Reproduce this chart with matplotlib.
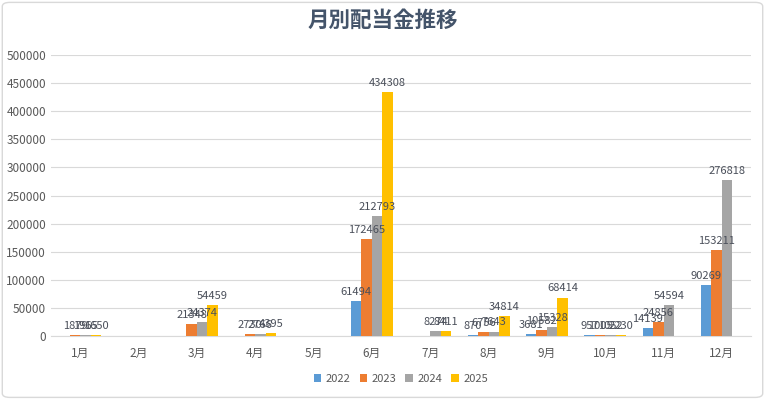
import numpy as np
import matplotlib
matplotlib.use("Agg")
import matplotlib.pyplot as plt
from matplotlib.patches import FancyBboxPatch

plt.rcParams["font.family"] = ["Noto Sans CJK JP", "DejaVu Sans"]

months = ["1月", "2月", "3月", "4月", "5月", "6月", "7月", "8月", "9月", "10月", "11月", "12月"]
years = ["2022", "2023", "2024", "2025"]

# None = no payment that month (no bar / no label)
v2022 = [None, None, None, None, None, 61494, None, 870, 3681, 957, 14139, 90269]
v2023 = [1879, None, 21348, 2730, None, 172465, None, 6756, 10582, 1005, 24856, 153211]
v2024 = [1965, None, 24374, 2766, None, 212793, 8274, 7643, 15328, 1052, 54594, 276818]
v2025 = [1650, None, 54459, 4395, None, 434308, 8411, 34814, 68414, 2230, None, None]

series = [v2022, v2023, v2024, v2025]
colors = ["#5B9BD5", "#ED7D31", "#A5A5A5", "#FFC000"]
text_col = "#595959"

fig = plt.figure(figsize=(7.65, 3.99), dpi=100)
fig.patches.append(FancyBboxPatch((0.003, 0.004), 0.994, 0.99, boxstyle="round,pad=0,rounding_size=0.01",
                                  transform=fig.transFigure, fill=False, edgecolor="#D9D9D9", linewidth=1))
ax = fig.add_axes([0.0667, 0.158, 0.915, 0.704])

x = np.arange(len(months))
w = 0.18
for i, (vals, yr, col) in enumerate(zip(series, years, colors)):
    idx = [j for j, v in enumerate(vals) if v is not None]
    hs = [vals[j] for j in idx]
    bars = ax.bar(x[idx] + (i - 1.5) * w, hs, width=w, color=col, label=yr, zorder=3)
    texts = ax.bar_label(bars, labels=[str(h) for h in hs], padding=3, fontsize=8, color="#4A4F5A")
    for t in texts:
        t.set_zorder(10)

ax.set_xlim(-0.5, 11.5)
ax.set_ylim(0, 500000)
ax.set_yticks(np.arange(0, 500001, 50000))
ax.set_yticklabels([str(t) for t in range(0, 500001, 50000)])
ax.set_xticks(x)
ax.set_xticklabels(months)
ax.grid(axis="y", color="#D9D9D9", linewidth=0.8, zorder=0)
for s in ["top", "right", "left"]:
    ax.spines[s].set_visible(False)
ax.spines["bottom"].set_color("#D9D9D9")
ax.tick_params(axis="both", length=0, labelsize=8.5, colors=text_col)
ax.tick_params(axis="x", pad=8)

fig.text(0.5, 0.95, "月別配当金推移", ha="center", va="center", fontsize=15.5,
         fontweight="bold", color="#44546A")

ax.legend(loc="upper center", bbox_to_anchor=(0.5, -0.1), ncol=4, frameon=False,
          fontsize=8, handlelength=0.7, handleheight=0.7, handletextpad=0.4,
          columnspacing=0.8, labelcolor=text_col)

fig.savefig("out.png", dpi=100)
